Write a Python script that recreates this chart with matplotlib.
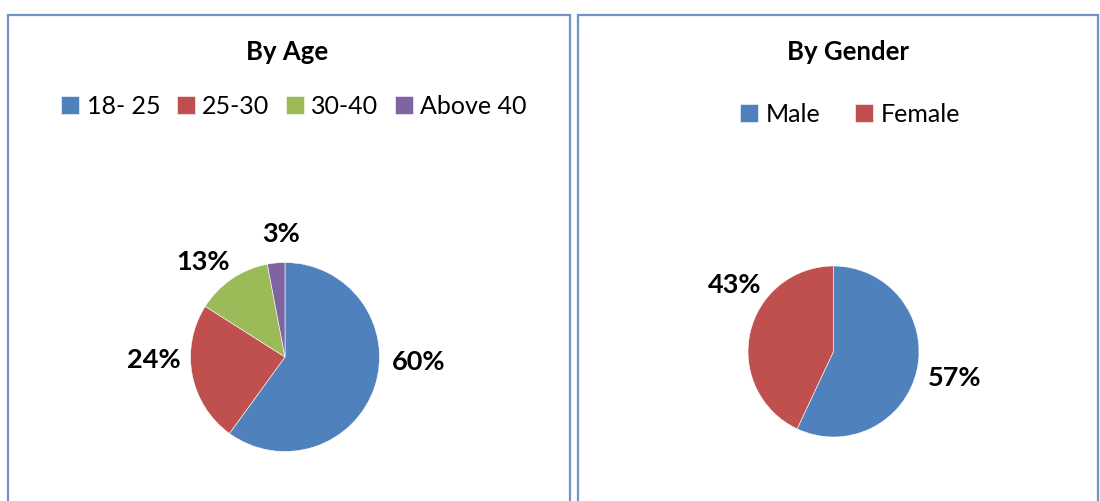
import matplotlib.pyplot as plt
from matplotlib.patches import Rectangle

age_labels = ['18- 25', '25-30', '30-40', 'Above 40']
age_values = [60, 24, 13, 3]
age_colors = ['#4F81BD', '#C0504D', '#9BBB59', '#8064A2']

gender_labels = ['Male', 'Female']
gender_values = [57, 43]
gender_colors = ['#4F81BD', '#C0504D']

# label spots in pie units (radius = 1), roughly where Excel put them
age_label_pos = [(1.415, -0.05), (-1.383, -0.03), (-0.87, 1.01), (-0.04, 1.30)]
gender_label_pos = [(1.42, -0.31), (-1.16, 0.78)]

plt.rcParams['font.family'] = ['Lato', 'DejaVu Sans']

W, H = 1100, 501
fig = plt.figure(figsize=(W / 100, H / 100), dpi=100)


def px_box(x0, y0, x1, y1):
    # pixel box (top-left origin) -> figure fraction rect
    return [x0 / W, 1 - y1 / H, (x1 - x0) / W, (y1 - y0) / H]


# panel frames, running off the bottom edge
for x0, x1 in [(8, 570), (578, 1098)]:
    fig.patches.append(Rectangle((x0 / W, -0.05), (x1 - x0) / W, 1.05 - 15 / H,
                                 transform=fig.transFigure, fill=False,
                                 edgecolor='#6F93C6', linewidth=1.6))


def draw_pie(cx, cy, r, values, colors, label_pos):
    ax = fig.add_axes(px_box(cx - r, cy - r, cx + r, cy + r))
    wedges, _ = ax.pie(values, colors=colors, startangle=90, counterclock=False,
                       wedgeprops=dict(edgecolor='white', linewidth=0.4))
    ax.set_xlim(-1, 1)
    ax.set_ylim(-1, 1)
    for v, (x, y) in zip(values, label_pos):
        ax.text(x, y, f'{v}%', ha='center', va='center', fontsize=19.5,
                fontweight='bold', color='black')
    return wedges


age_wedges = draw_pie(285, 357, 94.5, age_values, age_colors, age_label_pos)
gender_wedges = draw_pie(833.5, 351.5, 85.5, gender_values, gender_colors, gender_label_pos)

fig.text(287 / W, 1 - 52 / H, 'By Age', ha='center', va='center',
         fontsize=18.5, fontweight='bold')
fig.text(848 / W, 1 - 52 / H, 'By Gender', ha='center', va='center',
         fontsize=18.5, fontweight='bold')

fig.legend(age_wedges, age_labels, loc='center', bbox_to_anchor=(294 / W, 1 - 106 / H),
           ncol=4, frameon=False, fontsize=18, handlelength=0.72, handleheight=0.72,
           handletextpad=0.3, columnspacing=0.65)
fig.legend(gender_wedges, gender_labels, loc='center', bbox_to_anchor=(850 / W, 1 - 114 / H),
           ncol=2, frameon=False, fontsize=18, handlelength=0.72, handleheight=0.72,
           handletextpad=0.3, columnspacing=1.4)

fig.savefig('out.png', dpi=100)
